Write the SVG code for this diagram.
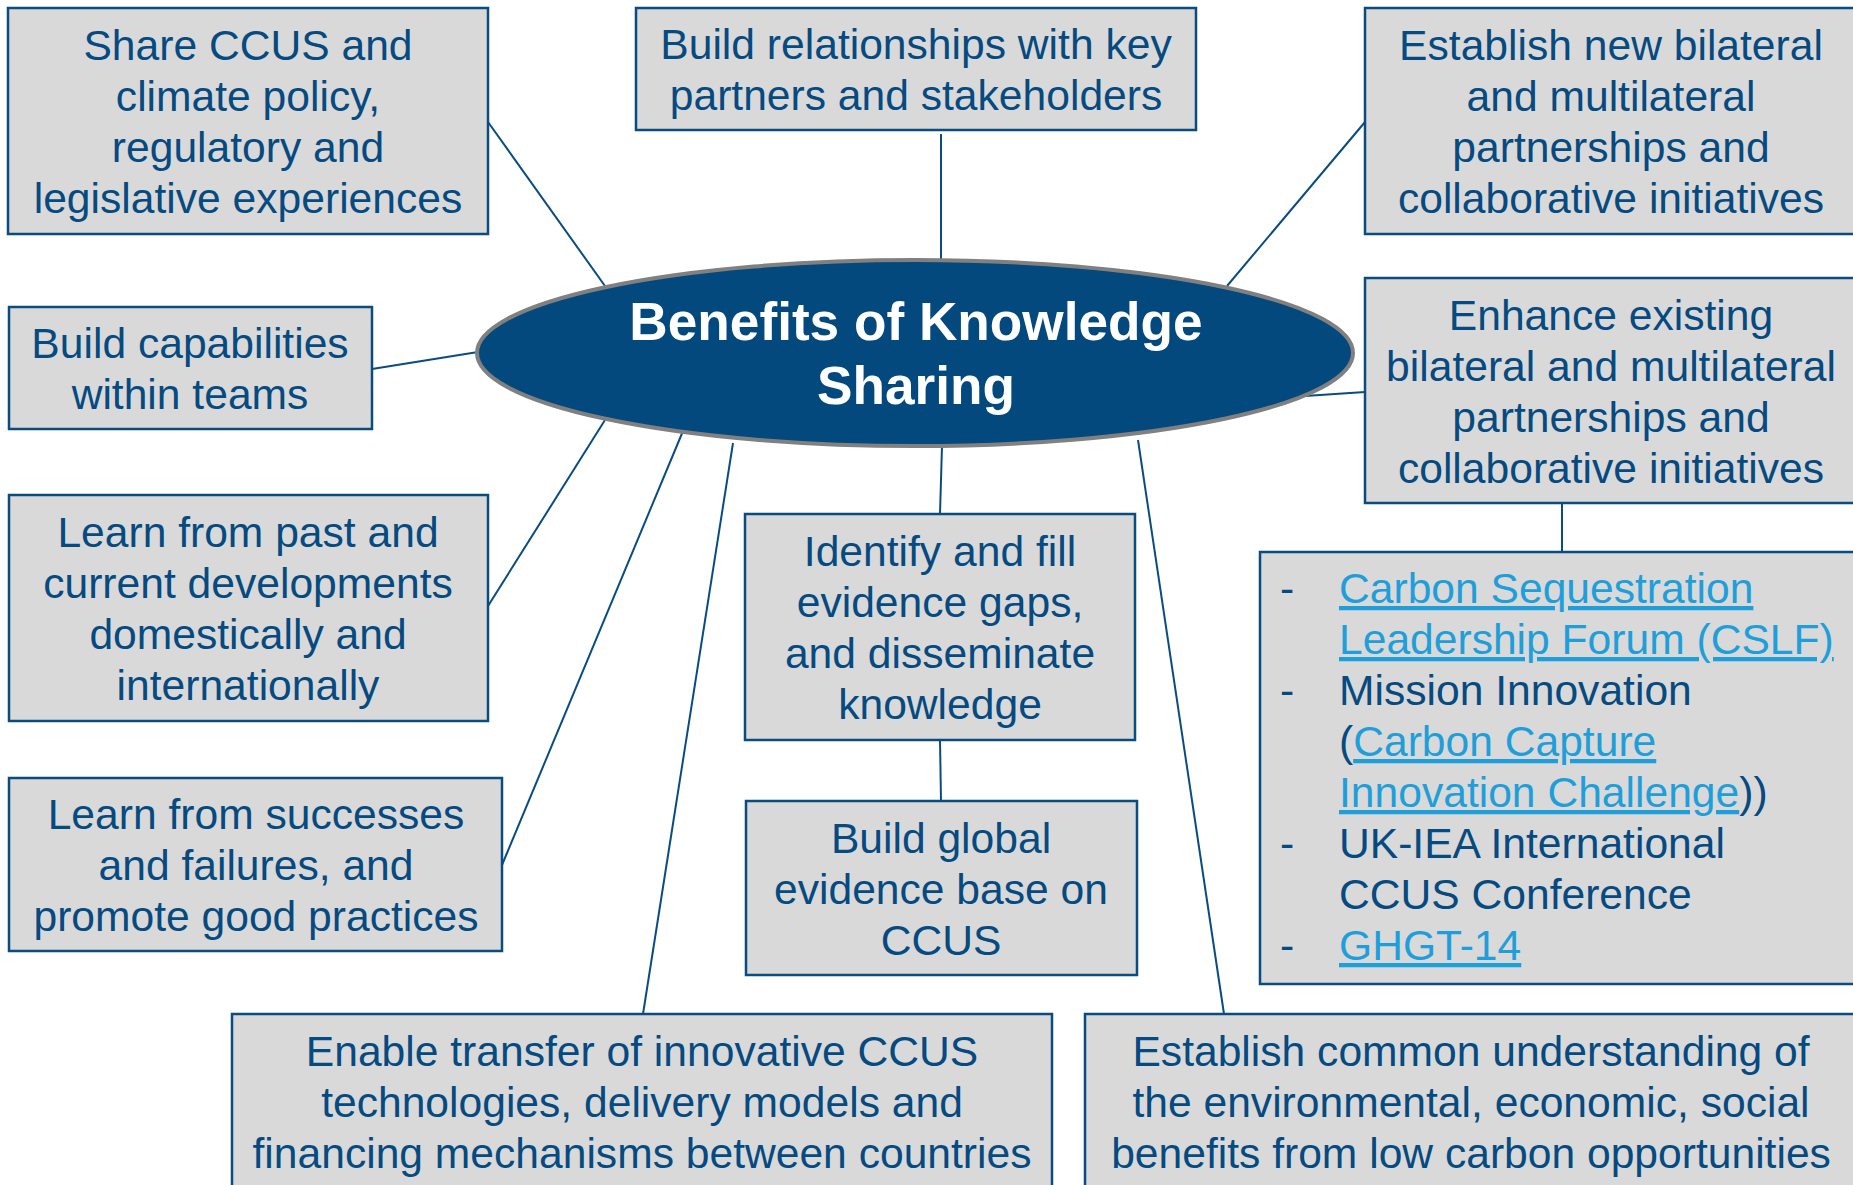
<svg xmlns="http://www.w3.org/2000/svg" width="1853" height="1185" viewBox="0 0 1853 1185">
<style>
.box{fill:#D9D9D9;stroke:#0A4C80;stroke-width:2.5}
.t{font-family:"Liberation Sans",Arial,sans-serif;font-size:42.6px;fill:#054A80;text-anchor:middle}
.l{font-family:"Liberation Sans",Arial,sans-serif;font-size:42.6px;fill:#054A80}
.lnk{fill:#1E9FD9;text-decoration:underline}
.c{stroke:#0A4C80;stroke-width:2;fill:none}
.title{font-family:"Liberation Sans",Arial,sans-serif;font-size:53.2px;font-weight:bold;fill:#FFFFFF;text-anchor:middle}
</style>
<rect width="1853" height="1185" fill="#FFFFFF"/>
<g id="connectors">
<line class="c" x1="488" y1="122" x2="605" y2="286"/>
<line class="c" x1="941" y1="134" x2="941" y2="262"/>
<line class="c" x1="1365" y1="122" x2="1227" y2="286"/>
<line class="c" x1="372" y1="369" x2="478" y2="352"/>
<line class="c" x1="1365" y1="392" x2="1305" y2="396"/>
<line class="c" x1="488" y1="606" x2="605" y2="420"/>
<line class="c" x1="502" y1="865" x2="683" y2="431"/>
<line class="c" x1="643" y1="1014" x2="733" y2="443"/>
<line class="c" x1="942" y1="446" x2="940" y2="514"/>
<line class="c" x1="940" y1="740" x2="941" y2="801"/>
<line class="c" x1="1138" y1="440" x2="1224" y2="1014"/>
<line class="c" x1="1562" y1="503" x2="1562" y2="552"/>
</g>
<g id="center">
<ellipse cx="915" cy="353" rx="438" ry="93" fill="#03497E" stroke="#808080" stroke-width="4"/>
<text class="title" x="916" y="340">Benefits of Knowledge</text>
<text class="title" x="916" y="404">Sharing</text>
</g>
<g id="n1">
<rect class="box" x="8" y="8" width="480" height="226"/>
<text class="t" x="248" y="60">Share CCUS and</text>
<text class="t" x="248" y="111">climate policy,</text>
<text class="t" x="248" y="162">regulatory and</text>
<text class="t" x="248" y="213">legislative experiences</text>
</g>
<g id="n2">
<rect class="box" x="636" y="8" width="560" height="122"/>
<text class="t" x="916" y="59">Build relationships with key</text>
<text class="t" x="916" y="110">partners and stakeholders</text>
</g>
<g id="n3">
<rect class="box" x="1365" y="8" width="493" height="226"/>
<text class="t" x="1611" y="60">Establish new bilateral</text>
<text class="t" x="1611" y="111">and multilateral</text>
<text class="t" x="1611" y="162">partnerships and</text>
<text class="t" x="1611" y="213">collaborative initiatives</text>
</g>
<g id="n4">
<rect class="box" x="9" y="307" width="363" height="122"/>
<text class="t" x="190" y="358">Build capabilities</text>
<text class="t" x="190" y="409">within teams</text>
</g>
<g id="n5">
<rect class="box" x="1365" y="278" width="493" height="225"/>
<text class="t" x="1611" y="330">Enhance existing</text>
<text class="t" x="1611" y="381">bilateral and multilateral</text>
<text class="t" x="1611" y="432">partnerships and</text>
<text class="t" x="1611" y="483">collaborative initiatives</text>
</g>
<g id="n6">
<rect class="box" x="9" y="495" width="479" height="226"/>
<text class="t" x="248" y="547">Learn from past and</text>
<text class="t" x="248" y="598">current developments</text>
<text class="t" x="248" y="649">domestically and</text>
<text class="t" x="248" y="700">internationally</text>
</g>
<g id="n7">
<rect class="box" x="745" y="514" width="390" height="226"/>
<text class="t" x="940" y="566">Identify and fill</text>
<text class="t" x="940" y="617">evidence gaps,</text>
<text class="t" x="940" y="668">and disseminate</text>
<text class="t" x="940" y="719">knowledge</text>
</g>
<g id="n8">
<rect class="box" x="1260" y="552" width="598" height="432"/>
<text class="l" x="1280" y="603">-</text>
<text class="l" x="1339" y="603"><tspan class="lnk">Carbon Sequestration</tspan></text>
<text class="l" x="1339" y="654"><tspan class="lnk">Leadership Forum (CSLF)</tspan></text>
<text class="l" x="1280" y="705">-</text>
<text class="l" x="1339" y="705">Mission Innovation</text>
<text class="l" x="1339" y="756">(<tspan class="lnk">Carbon Capture</tspan></text>
<text class="l" x="1339" y="807"><tspan class="lnk">Innovation Challenge</tspan>))</text>
<text class="l" x="1280" y="858">-</text>
<text class="l" x="1339" y="858">UK-IEA International</text>
<text class="l" x="1339" y="909">CCUS Conference</text>
<text class="l" x="1280" y="960">-</text>
<text class="l" x="1339" y="960"><tspan class="lnk">GHGT-14</tspan></text>
</g>
<g id="n9">
<rect class="box" x="9" y="778" width="493" height="173"/>
<text class="t" x="256" y="829">Learn from successes</text>
<text class="t" x="256" y="880">and failures, and</text>
<text class="t" x="256" y="931">promote good practices</text>
</g>
<g id="n10">
<rect class="box" x="746" y="801" width="391" height="174"/>
<text class="t" x="941" y="853">Build global</text>
<text class="t" x="941" y="904">evidence base on</text>
<text class="t" x="941" y="955">CCUS</text>
</g>
<g id="n11">
<rect class="box" x="232" y="1014" width="820" height="185"/>
<text class="t" x="642" y="1066">Enable transfer of innovative CCUS</text>
<text class="t" x="642" y="1117">technologies, delivery models and</text>
<text class="t" x="642" y="1168">financing mechanisms between countries</text>
</g>
<g id="n12">
<rect class="box" x="1085" y="1014" width="773" height="185"/>
<text class="t" x="1471" y="1066">Establish common understanding of</text>
<text class="t" x="1471" y="1117">the environmental, economic, social</text>
<text class="t" x="1471" y="1168">benefits from low carbon opportunities</text>
</g>
</svg>
